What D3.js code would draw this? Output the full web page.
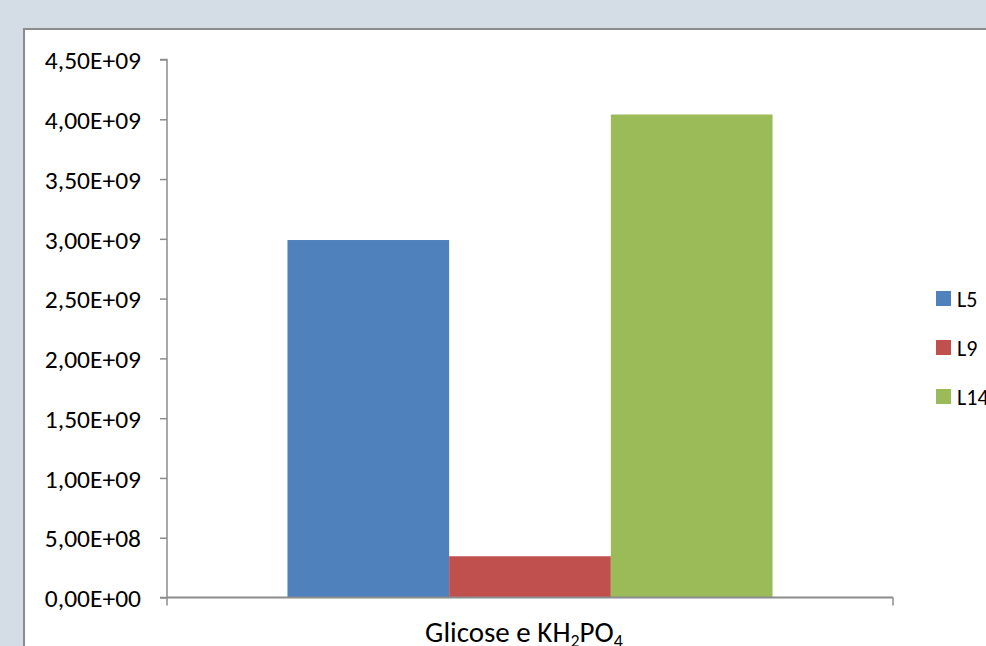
<!DOCTYPE html>
<html><head><meta charset="utf-8">
<script src="https://cdn.jsdelivr.net/npm/d3@7"></script>
<style>html,body{margin:0;padding:0;background:#D4DCE6;overflow:hidden}</style>
</head><body>
<svg id="c" width="986" height="646"></svg>
<script>
const categories = ["Glicose e KH2PO4"];
const series = ["L5", "L9", "L14"];
const values = [[2.99e9], [0.345e9], [4.04e9]];
const colors = ["#4F81BD", "#C0504D", "#9BBB59"];
const yTicks = [0, 0.5e9, 1e9, 1.5e9, 2e9, 2.5e9, 3e9, 3.5e9, 4e9, 4.5e9];

const svg = d3.select("#c");
const font = "Carlito, Lato, 'Open Sans', sans-serif";
svg.append("rect").attr("x", 24).attr("y", 29).attr("width", 1000).attr("height", 700)
  .attr("fill", "#fff").attr("stroke", "#8C8C8C").attr("stroke-width", 2);

const y = d3.scaleLinear().domain([0, 4.5e9]).range([597.5, 59.5]);
const x0 = d3.scaleBand().domain(categories).range([167, 893]);
const x1 = d3.scaleBand().domain(series).range([0, x0.bandwidth()]).paddingOuter(0.745).paddingInner(0);

const fmt = v => {
  const s = v.toExponential(2).replace(".", ",");
  const [m, e] = s.split("e");
  const n = parseInt(e);
  return m + "E" + (n < 0 ? "-" : "+") + String(Math.abs(n)).padStart(2, "0");
};

// bars
series.forEach((s, i) => {
  svg.append("g").selectAll("rect").data(categories).join("rect")
    .attr("x", c => x0(c) + x1(s))
    .attr("width", x1.bandwidth())
    .attr("y", (c, j) => y(values[i][j]))
    .attr("height", (c, j) => y(0) - y(values[i][j]))
    .attr("fill", colors[i]);
});

// y axis
const yAxis = d3.axisLeft(y).tickValues(yTicks).tickSize(7).tickPadding(19).tickFormat(fmt);
const gy = svg.append("g").attr("transform", "translate(167,0)").call(yAxis);
gy.select(".domain").attr("stroke", "#8C8C8C").attr("stroke-width", 1.5).attr("d", "M-7,59.5H0V597.5H-7");
gy.selectAll(".tick line").attr("stroke", "#8C8C8C").attr("stroke-width", 1.5);
gy.selectAll(".tick text").attr("font-family", font).attr("font-size", 25.5).attr("fill", "#000").attr("dy", "0.36em");

// x axis
const gx = svg.append("g").attr("transform", "translate(0,597.5)");
gx.append("path").attr("d", `M${x0.range()[0]},0H${x0.range()[1]}`).attr("stroke", "#8C8C8C").attr("stroke-width", 2).attr("fill", "none");
[x0.range()[0], x0.range()[1]].forEach(px => gx.append("line").attr("x1", px).attr("x2", px).attr("y1", 0).attr("y2", 8).attr("stroke", "#8C8C8C").attr("stroke-width", 1.5));
const lbl = gx.append("text").attr("x", x0(categories[0]) + x0.bandwidth() / 2 - 6).attr("y", 44)
  .attr("text-anchor", "middle").attr("font-family", font).attr("font-size", 29).attr("fill", "#000");
lbl.append("tspan").text("Glicose e KH");
lbl.append("tspan").text("2").attr("font-size", 18).attr("dy", 5);
lbl.append("tspan").text("PO").attr("dy", -5);
lbl.append("tspan").text("4").attr("font-size", 18).attr("dy", 5);

// legend
const lg = svg.append("g").selectAll("g").data(series).join("g")
  .attr("transform", (d, i) => `translate(936,${291 + i * 49})`);
lg.append("rect").attr("width", 15).attr("height", 15).attr("fill", (d, i) => colors[i]);
lg.append("text").attr("x", 21).attr("y", 15.5).text(d => d)
  .attr("font-family", font).attr("font-size", 22).attr("fill", "#000");
</script>
</body></html>
